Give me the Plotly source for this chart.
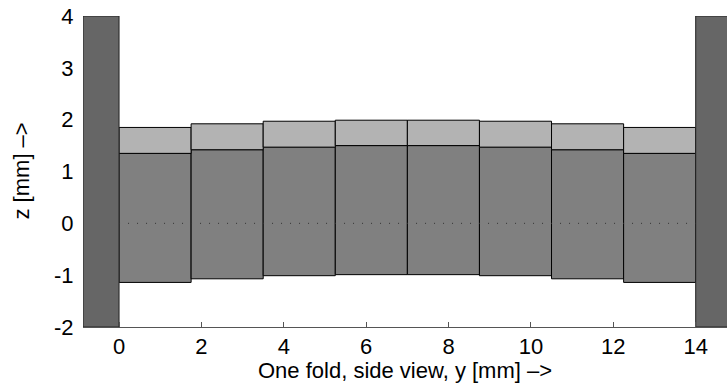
import plotly.graph_objects as go

# ---- data (mm) ----
seg_start = [0.0, 1.75, 3.5, 5.25, 7.0, 8.75, 10.5, 12.25]
seg_width = [1.75] * 8
z_bottom = [-1.14, -1.07, -1.01, -0.99, -0.99, -1.01, -1.07, -1.14]
z_mid = [1.35, 1.42, 1.47, 1.50, 1.50, 1.47, 1.42, 1.35]
z_top = [1.85, 1.92, 1.97, 1.99, 1.99, 1.97, 1.92, 1.85]

wall_start = [-0.875, 14.0]
wall_width = [0.875, 0.875]
wall_bottom = [-2.0, -2.0]
wall_top = [4.0, 4.0]

center_line_y = [0.0, 14.0]
center_line_z = [0.0, 0.0]

x_ticks = [0, 2, 4, 6, 8, 10, 12, 14]
y_ticks = [-2, -1, 0, 1, 2, 3, 4]
y_tick_text = ["-2", "-1", "0", "1", "2", "3", "4"]

x_title = "One fold, side view, y [mm] –>"
y_title = "z [mm] –>"

FONT = "Liberation Sans, Arial, sans-serif"
FS = 22

fig = go.Figure()

seg_center = [s + w / 2 for s, w in zip(seg_start, seg_width)]
fig.add_trace(go.Bar(
    x=seg_center, width=seg_width, base=z_bottom,
    y=[m - b for m, b in zip(z_mid, z_bottom)],
    marker=dict(color="#808080", line=dict(color="black", width=1)),
    hoverinfo="skip", showlegend=False))
fig.add_trace(go.Bar(
    x=seg_center, width=seg_width, base=z_mid,
    y=[t - m for t, m in zip(z_top, z_mid)],
    marker=dict(color="#b3b3b3", line=dict(color="black", width=1)),
    hoverinfo="skip", showlegend=False))

wall_center = [s + w / 2 for s, w in zip(wall_start, wall_width)]
fig.add_trace(go.Bar(
    x=wall_center, width=wall_width, base=wall_bottom,
    y=[t - b for t, b in zip(wall_top, wall_bottom)],
    marker=dict(color="#666666", line=dict(color="#222222", width=1)),
    hoverinfo="skip", showlegend=False))

fig.add_trace(go.Scatter(
    x=center_line_y, y=center_line_z, mode="lines",
    line=dict(color="#333333", width=1, dash="1px,8px"),
    hoverinfo="skip", showlegend=False))

fig.update_layout(
    width=727, height=386,
    margin=dict(l=83, r=0, t=16, b=59),
    paper_bgcolor="white", plot_bgcolor="white",
    barmode="overlay",
    font=dict(family=FONT, size=FS, color="black"),
    xaxis=dict(
        range=[-0.875, 14.76], tickvals=x_ticks,
        ticks="inside", ticklen=5, tickcolor="#555555", tickwidth=1,
        showline=True, linecolor="#555555", linewidth=1,
        showgrid=False, zeroline=False,
    ),
    yaxis=dict(
        range=[-2, 4], tickvals=y_ticks, ticktext=y_tick_text,
        ticks="outside", ticklen=4, tickcolor="rgba(0,0,0,0)",
        showline=False, showgrid=False, zeroline=False,
    ),
    annotations=[
        dict(text=x_title, xref="paper", yref="paper", x=0.5, y=0,
             xanchor="center", yanchor="bottom", yshift=-58,
             showarrow=False, font=dict(size=FS)),
        dict(text=y_title, xref="paper", yref="paper", x=0, y=0.5,
             xanchor="center", yanchor="middle", xshift=-62, textangle=-90,
             showarrow=False, font=dict(size=FS)),
    ],
)

fig.write_html("out.html")
